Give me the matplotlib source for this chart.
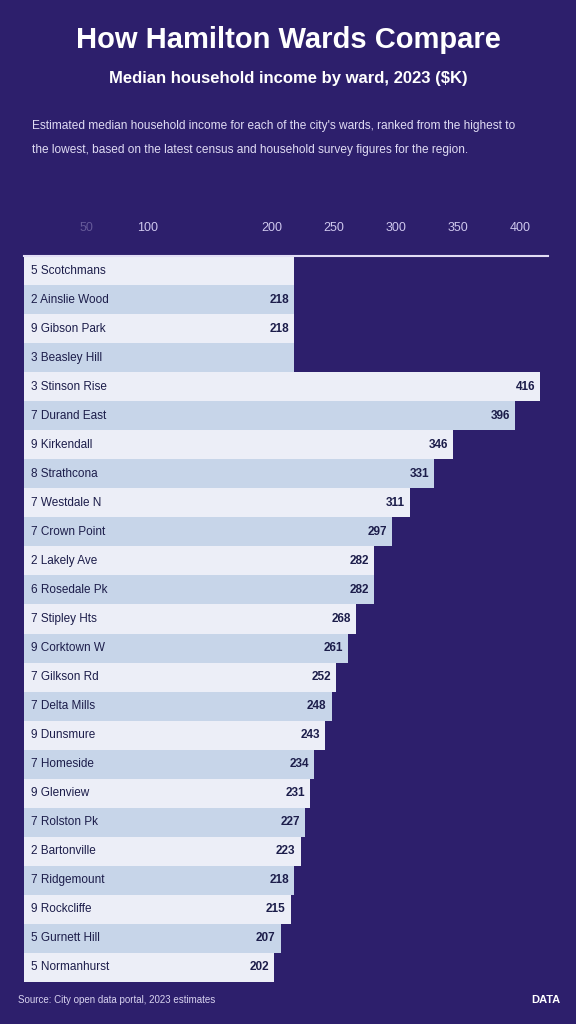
import matplotlib
matplotlib.use("Agg")
import matplotlib.pyplot as plt

# ---- data ----
categories = [
    "5 Scotchmans", "2 Ainslie Wood", "9 Gibson Park", "3 Beasley Hill",
    "3 Stinson Rise", "7 Durand East", "9 Kirkendall", "8 Strathcona",
    "7 Westdale N", "7 Crown Point", "2 Lakely Ave", "6 Rosedale Pk",
    "7 Stipley Hts", "9 Corktown W", "7 Gilkson Rd", "7 Delta Mills",
    "9 Dunsmure", "7 Homeside", "9 Glenview", "7 Rolston Pk",
    "2 Bartonville", "7 Ridgemount", "9 Rockcliffe", "5 Gurnett Hill",
    "5 Normanhurst",
]
values = [218, 218, 218, 218, 416, 396, 346, 331, 311, 297, 282, 282, 268,
          261, 252, 248, 243, 234, 231, 227, 223, 218, 215, 207, 202]
show_value = [False, True, True, False] + [True] * 21
tick_values = [50, 100, 200, 250, 300, 350, 400]
tick_labels = ["50", "100", "200", "250", "300", "350", "400"]

title = "How Hamilton Wards Compare"
subtitle = "Median household income by ward, 2023 ($K)"
desc1 = "Estimated median household income for each of the city's wards, ranked from the highest to"
desc2 = "the lowest, based on the latest census and household survey figures for the region."
source = "Source: City open data portal, 2023 estimates"
brand = "DATA"

# ---- style ----
BG = "#2d1f6c"
LIGHT = "#eceef7"
BLUE = "#c7d5e9"
TXT = "#1c1d4a"
LAV = "#cfc8ee"

plt.rcParams["font.family"] = ["Liberation Sans", "DejaVu Sans"]

fig = plt.figure(figsize=(5.76, 10.24), dpi=100, facecolor=BG)
ax = fig.add_axes([24 / 576, 1 - 982 / 1024, (548 - 24) / 576, (982 - 256) / 1024])
ax.set_facecolor(BG)

n = len(categories)
ypos = list(range(n))
colors = [LIGHT if i % 2 == 0 else BLUE for i in range(n)]
ax.barh(ypos, values, height=1.0, color=colors, edgecolor="none", align="center")
ax.set_ylim(n - 0.5, -0.5)
ax.set_xlim(0, (548 - 24) / 1.24)

for i, (c, v) in enumerate(zip(categories, values)):
    ax.text(6, i, c, ha="left", va="center", fontsize=8.5, color=TXT)
    if show_value[i]:
        ax.text(v - 4, i, f"{v}", ha="right", va="center", fontsize=8.5,
                color=TXT, fontweight="bold")

ax.xaxis.tick_top()
ax.set_xticks(tick_values)
ax.set_xticklabels(tick_labels)
ax.tick_params(axis="x", length=0, pad=16, labelsize=9, labelcolor=LAV)
ax.get_xticklabels()[0].set_alpha(0.35)
ax.set_yticks([])
for s in ["right", "bottom", "left"]:
    ax.spines[s].set_visible(False)
ax.spines["top"].set_color("#e2ddf5")
ax.spines["top"].set_linewidth(1.5)

fig.text(0.5, 1 - 40 / 1024, title, ha="center", va="center", fontsize=21,
         fontweight="bold", color="white")
fig.text(0.5, 1 - 78 / 1024, subtitle, ha="center", va="center", fontsize=12,
         fontweight="bold", color="white")
fig.text(32 / 576, 1 - 126 / 1024, desc1, ha="left", va="center", fontsize=8.6,
         color="#e0dcf4")
fig.text(32 / 576, 1 - 150 / 1024, desc2, ha="left", va="center", fontsize=8.6,
         color="#e0dcf4")
fig.text(18 / 576, 1 - 1000 / 1024, source, ha="left", va="center", fontsize=7,
         color="#d8d3f0")
fig.text(560 / 576, 1 - 1000 / 1024, brand, ha="right", va="center", fontsize=8,
         fontweight="bold", color="white")

fig.savefig("out.png", dpi=100, facecolor=BG)
